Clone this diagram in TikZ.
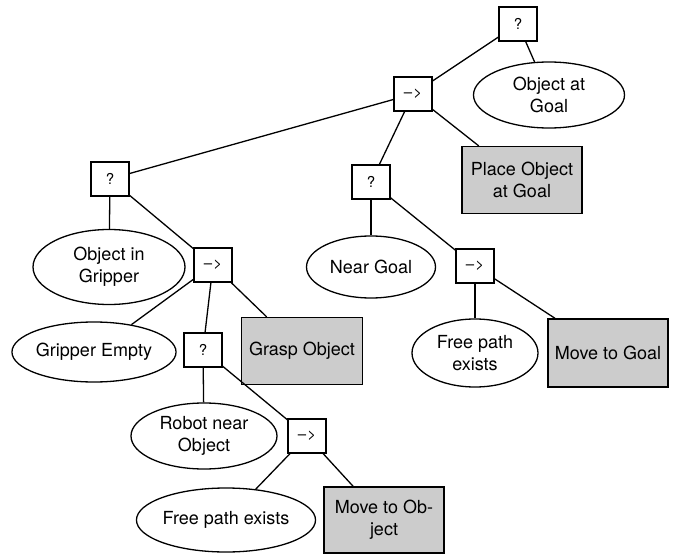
\documentclass[tikz,border=0pt]{standalone}
\usepackage{fontspec}
\setmainfont{TeX Gyre Heros}
\usetikzlibrary{shapes.geometric}

\tikzset{
  ctrl/.style={draw,line width=1.3pt,fill=white,inner sep=0pt,
    minimum width=38pt,minimum height=34pt,font=\fontsize{15}{17}\selectfont},
  cond/.style={draw,ellipse,line width=1.3pt,fill=white,inner sep=0pt,
    align=center,font=\fontsize{18}{22}\selectfont},
  act/.style={draw,line width=1.3pt,fill=black!20,inner sep=0pt,
    minimum width=120pt,align=center,font=\fontsize{18}{22}\selectfont},
  edge/.style={line width=1.3pt}
}

\begin{document}
\begin{tikzpicture}[x=1pt,y=-1pt]
  \useasboundingbox (0,0) rectangle (677,556);
  % control nodes
  \node[ctrl] (root) at (518,24) {?};
  \node[ctrl] (seqtop) at (413,94) {–\kern1pt>};
  \node[ctrl] (selL) at (110,179) {?};
  \node[ctrl] (seqM) at (213,265) {–\kern1pt>};
  \node[ctrl] (selM) at (203,350) {?};
  \node[ctrl] (seqL) at (307,436) {–\kern1pt>};
  \node[ctrl] (selR) at (371,182) {?};
  \node[ctrl] (seqR) at (475,266) {–\kern1pt>};
  % conditions
  \node[cond,minimum width=151pt,minimum height=66pt] (atgoal) at (549,95) {Object at\\Goal};
  \node[cond,minimum width=152pt,minimum height=75pt] (ingrip) at (109,267) {Object in\\Gripper};
  \node[cond,minimum width=163pt,minimum height=60pt] (empty) at (94,352) {Gripper Empty};
  \node[cond,minimum width=146pt,minimum height=66pt] (nearobj) at (204,436) {Robot near\\Object};
  \node[cond,minimum width=173pt,minimum height=64pt] (freeA) at (226,520) {Free path exists};
  \node[cond,minimum width=129pt,minimum height=62pt] (neargoal) at (371,267) {Near Goal};
  \node[cond,minimum width=126pt,minimum height=68pt] (freeB) at (475,353) {Free path\\exists};
  % actions
  \node[act,minimum height=67pt] (place) at (522,180) {Place Object\\at Goal};
  \node[act,minimum width=121pt,minimum height=67pt] (grasp) at (302,351) {Grasp Object};
  \node[act,minimum height=66pt] (moveobj) at (384,520) {Move to Ob-\\ject};
  \node[act,minimum height=68pt] (movegoal) at (608,353) {Move to Goal};
  % edges
  \draw[edge] (root) -- (seqtop);
  \draw[edge] (root) -- (atgoal);
  \draw[edge] (seqtop) -- (selL);
  \draw[edge] (seqtop) -- (selR);
  \draw[edge] (seqtop) -- (place);
  \draw[edge] (selL) -- (ingrip);
  \draw[edge] (selL) -- (seqM);
  \draw[edge] (seqM) -- (empty);
  \draw[edge] (seqM) -- (selM);
  \draw[edge] (seqM) -- (grasp);
  \draw[edge] (selM) -- (nearobj);
  \draw[edge] (selM) -- (seqL);
  \draw[edge] (seqL) -- (freeA);
  \draw[edge] (seqL) -- (moveobj);
  \draw[edge] (selR) -- (neargoal);
  \draw[edge] (selR) -- (seqR);
  \draw[edge] (seqR) -- (freeB);
  \draw[edge] (seqR) -- (movegoal);
\end{tikzpicture}
\end{document}
